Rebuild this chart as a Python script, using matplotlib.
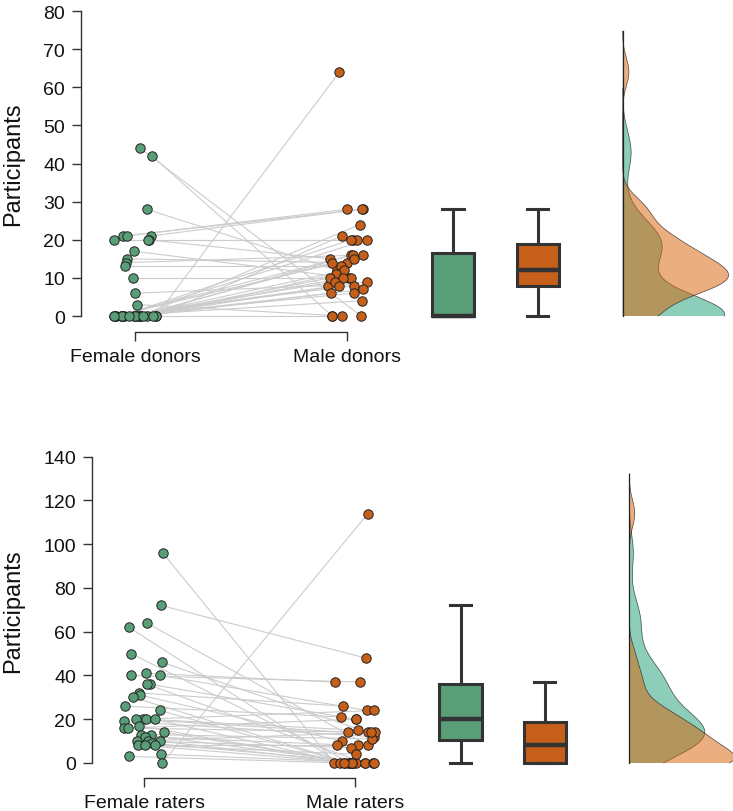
import numpy as np
import matplotlib
matplotlib.use("Agg")
import matplotlib.pyplot as plt

plt.rcParams["font.family"] = ["Liberation Sans", "DejaVu Sans"]

# paired values (same index = same study)
female_donors = [44, 42, 28, 21, 21, 21, 20, 20, 20, 17, 15, 14, 13, 10, 6, 3,
                 0, 0, 0, 0, 0, 0, 0, 0, 0, 0, 0, 0, 0, 0, 0, 0, 0, 0, 0, 0, 0, 0]
male_donors = [0, 0, 12, 28, 28, 28, 20, 20, 15, 10, 14, 16, 13, 10, 8, 0,
               64, 0, 24, 21, 20, 20, 16, 16, 15, 14, 12, 11, 10, 10, 9, 9, 8, 8, 7, 6, 6, 4]

female_raters = [96, 72, 64, 62, 50, 46, 41, 40, 40, 36, 36, 32, 31, 30, 26, 24, 20, 20, 20,
                 20, 19, 17, 16, 16, 14, 13, 13, 12, 10, 10, 10, 9, 8, 8, 8, 4, 3, 0]
male_raters = [0, 48, 8, 0, 0, 14, 37, 37, 24, 20, 0, 26, 10, 0, 21, 0, 24, 15, 14,
               0, 12, 0, 14, 20, 0, 11, 0, 8, 0, 14, 7, 0, 8, 0, 4, 0, 0, 114]

panels = [
    (female_donors, male_donors, ["Female donors", "Male donors"], 80, 10),
    (female_raters, male_raters, ["Female raters", "Male raters"], 140, 20),
]

green = "#5a9e78"
orange = "#c55f19"
kde_green = "#1b9e77"
kde_orange = "#d95f02"
dark = "#333333"


def bandwidth(values):
    # R's bw.nrd0
    values = np.asarray(values, dtype=float)
    iqr = np.percentile(values, 75) - np.percentile(values, 25)
    return 0.9 * min(values.std(ddof=1), iqr / 1.34) * len(values) ** -0.2


def kde(values, grid):
    values = np.asarray(values, dtype=float)
    n = len(values)
    bw = bandwidth(values)
    dens = np.exp(-0.5 * ((grid[:, None] - values[None, :]) / bw) ** 2).sum(axis=1)
    return dens / (n * bw * np.sqrt(2 * np.pi))


fig = plt.figure(figsize=(7.33, 8.12), dpi=100)

# pixel layout: left spine x, bottom spine y, top y, x of first category, px per category, y of zero
layout = [
    (81, 333, 12, 135, 212, 317),
    (92, 779, 457.7, 144, 211, 764),
]

rng = np.random.default_rng(7)

for (a, b, labels, ymax, ystep), (lx, by, ty, cx, pxu, y0px) in zip(panels, layout):
    W, H = 733.0, 812.0
    ax = fig.add_axes([lx / W, 1 - by / H, (W - lx) / W, (by - ty) / H])
    xl = (lx - cx) / pxu
    ax.set_xlim(xl, xl + (W - lx) / pxu)
    ypx = (y0px - ty) / ymax
    ax.set_ylim(-(by - y0px) / ypx, ymax)

    a = np.asarray(a)
    b = np.asarray(b)
    n = len(a)
    xa = 0 + rng.uniform(-0.1, 0.1, n)
    xb = 1 + rng.uniform(-0.1, 0.1, n)

    for i in range(n):
        ax.plot([xa[i], xb[i]], [a[i], b[i]], color="#cccccc", lw=0.8, zorder=1)
    ax.scatter(xa, a, s=46, color=green, edgecolor="#222222", linewidth=0.7, zorder=3, clip_on=False)
    ax.scatter(xb, b, s=46, color=orange, edgecolor="#222222", linewidth=0.7, zorder=3, clip_on=False)

    # boxplots
    for vals, pos, col in [(a, 1.5, green), (b, 1.9, orange)]:
        ax.boxplot(vals, positions=[pos], widths=0.2, patch_artist=True,
                   showfliers=False, whis=1.5, capwidths=0.1, manage_ticks=False,
                   boxprops=dict(facecolor=col, edgecolor=dark, linewidth=2.2),
                   medianprops=dict(color=dark, linewidth=3.2),
                   whiskerprops=dict(color=dark, linewidth=2.2),
                   capprops=dict(color=dark, linewidth=2.2))

    # half densities
    base = 2.3
    curves = []
    for vals in (a, b):
        top = vals.max() + 3 * bandwidth(vals)
        grid = np.linspace(0, top, 400)
        curves.append((grid, kde(vals, grid)))
    dmax = max(c[1].max() for c in curves)
    scale = 0.5 / dmax
    for (grid, d), col in zip(curves, [kde_green, kde_orange]):
        ax.fill_betweenx(grid, base, base + d * scale, facecolor=col, alpha=0.5,
                         edgecolor="none", zorder=2)
        ax.plot(base + d * scale, grid, color="#222222", lw=0.5, alpha=0.8, zorder=2)
    ytop = max(c[0].max() for c in curves)
    ax.plot([base, base], [0, ytop], color="#222222", lw=0.9, zorder=2)

    # axes styling
    for s in ["top", "right"]:
        ax.spines[s].set_visible(False)
    ax.spines["left"].set_bounds(0, ymax)
    ax.spines["bottom"].set_bounds(0, 1)
    for s in ["left", "bottom"]:
        ax.spines[s].set_color(dark)
        ax.spines[s].set_linewidth(1.0)
    ax.set_yticks(np.arange(0, ymax + 1, ystep))
    ax.set_xticks([0, 1])
    ax.set_xticklabels(labels)
    ax.tick_params(axis="both", labelsize=14, length=6.5, width=1.0, color=dark,
                   pad=5, labelcolor="#111111")
    ax.set_ylabel("Participants", fontsize=17, color="#111111")
    ax.yaxis.set_label_coords((24 - lx) / (W - lx), (by - (y0px + ty) / 2) / (by - ty))

fig.savefig("out.png", dpi=100)
